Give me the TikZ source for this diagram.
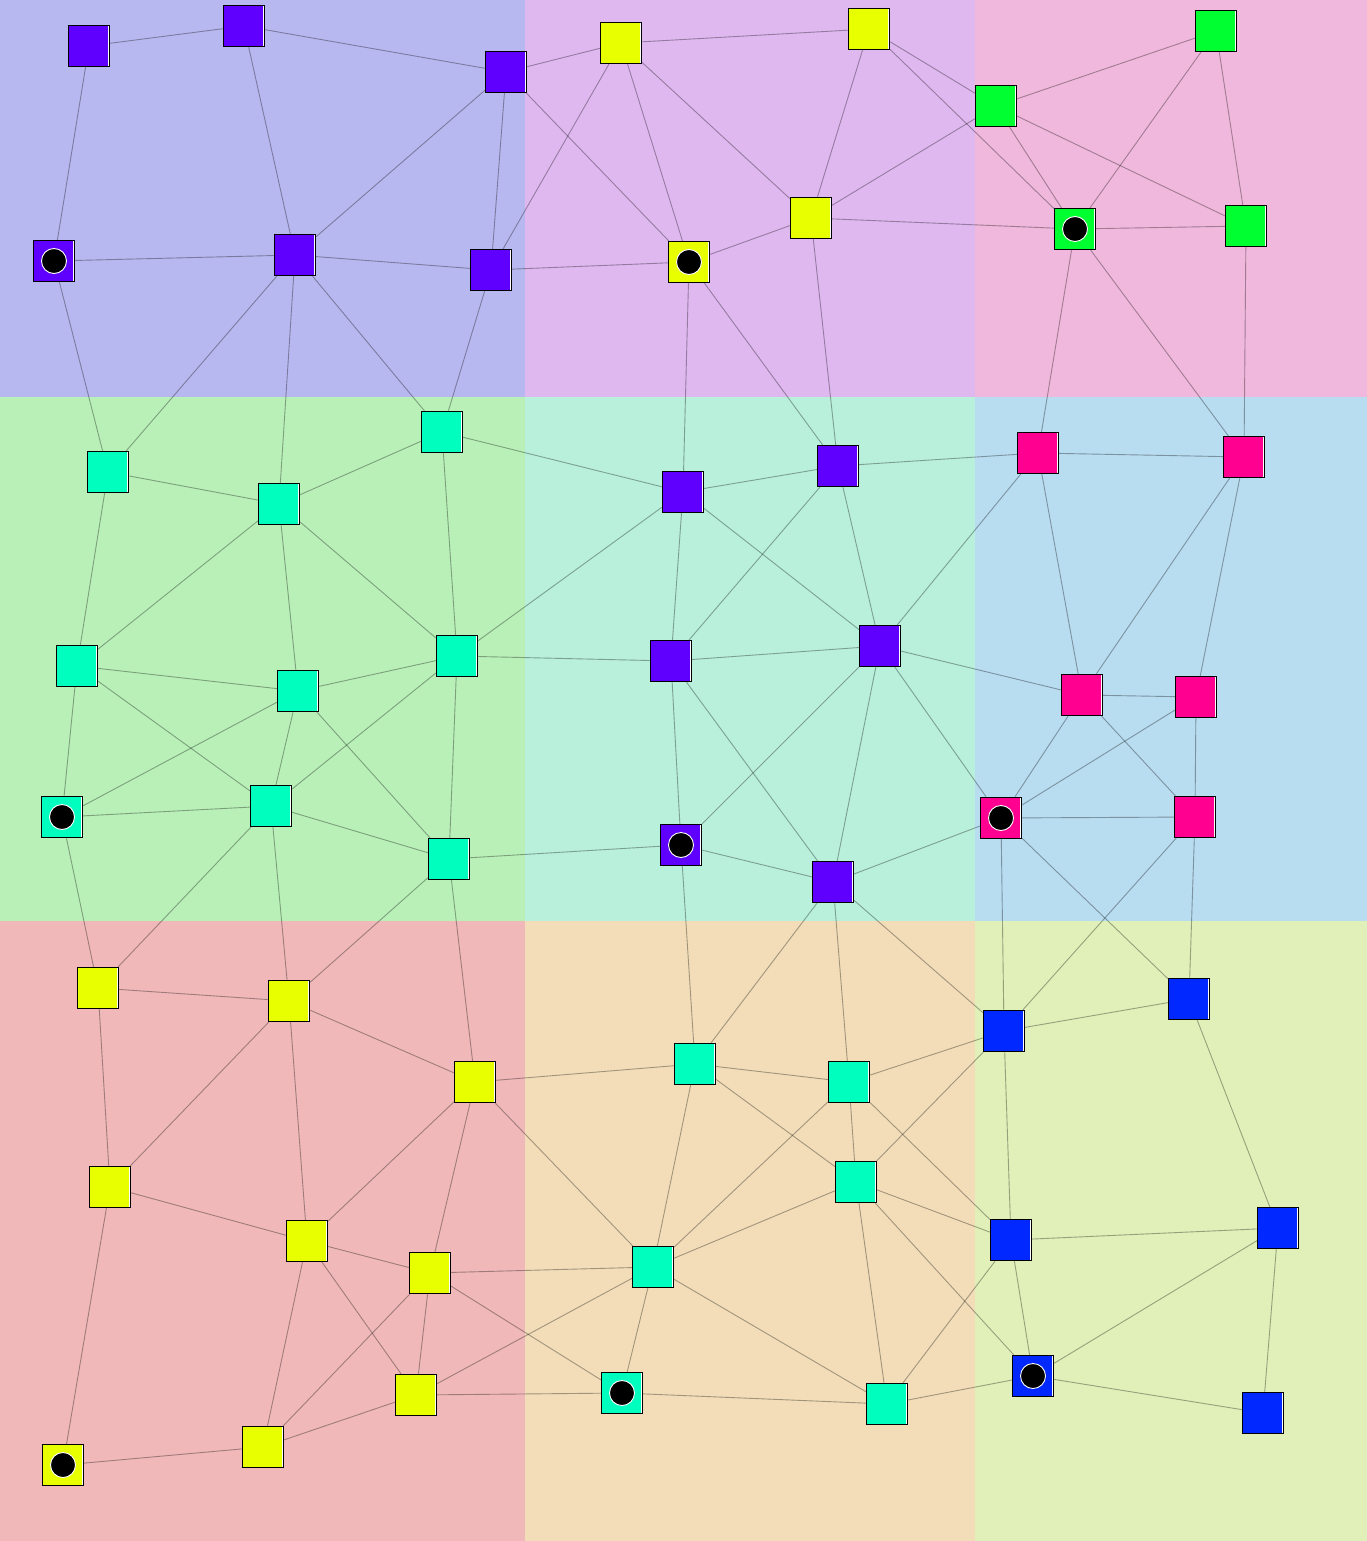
\documentclass[tikz,border=0pt]{standalone}
\usetikzlibrary{backgrounds}
\pgfdeclarelayer{bgl}
\pgfdeclarelayer{edgel}
\pgfsetlayers{bgl,edgel,main}
\definecolor{bgTL}{HTML}{B8B8F0}
\definecolor{bgTM}{HTML}{DFB8F0}
\definecolor{bgTR}{HTML}{F0B8DC}
\definecolor{bgML}{HTML}{B8F0B8}
\definecolor{bgMM}{HTML}{B8F0DC}
\definecolor{bgMR}{HTML}{B8DCF0}
\definecolor{bgBL}{HTML}{F0B8B8}
\definecolor{bgBM}{HTML}{F2DDB8}
\definecolor{bgBR}{HTML}{E0F0B8}
\definecolor{cP}{HTML}{5F00FF}
\definecolor{cY}{HTML}{E8FF00}
\definecolor{cG}{HTML}{00FF30}
\definecolor{cT}{HTML}{00FFBF}
\definecolor{cK}{HTML}{FF0090}
\definecolor{cB}{HTML}{0028FF}
\tikzset{
  sq/.style={draw=black, line width=1.2pt, minimum size=41pt, inner sep=0pt,
    path picture={\draw[white,line width=1pt]
      ([xshift=-1.4pt,yshift=-0.8pt]path picture bounding box.north east) --
      ([xshift=-1.4pt,yshift=0.8pt]path picture bounding box.south east);}},
  dotc/.style={circle, fill=black, draw=white, line width=0.9pt, minimum size=25pt, inner sep=0pt},
  edge/.style={draw=black, draw opacity=0.33, line width=0.9pt}
}
\begin{document}
\begin{tikzpicture}[x=1pt,y=-1pt]
\useasboundingbox (0,0) rectangle (1367,1541);
\begin{pgfonlayer}{bgl}
\fill[bgTL] (0,0) rectangle (525,397);
\fill[bgTM] (525,0) rectangle (975,397);
\fill[bgTR] (975,0) rectangle (1367,397);
\fill[bgML] (0,397) rectangle (525,921);
\fill[bgMM] (525,397) rectangle (975,921);
\fill[bgMR] (975,397) rectangle (1367,921);
\fill[bgBL] (0,921) rectangle (525,1541);
\fill[bgBM] (525,921) rectangle (975,1541);
\fill[bgBR] (975,921) rectangle (1367,1541);
\end{pgfonlayer}
% top-left
\node[sq,fill=cP] (P1) at (89,46) {};
\node[sq,fill=cP] (P2) at (244,26) {};
\node[sq,fill=cP] (P3) at (506,72) {};
\node[sq,fill=cP] (P4) at (54,261) {};
\node[sq,fill=cP] (P5) at (295,255) {};
\node[sq,fill=cP] (P6) at (491,270) {};
% top-middle
\node[sq,fill=cY] (Y1) at (621,43) {};
\node[sq,fill=cY] (Y2) at (869,29) {};
\node[sq,fill=cY] (Y3) at (811,218) {};
\node[sq,fill=cY] (Y4) at (689,262) {};
% top-right
\node[sq,fill=cG] (G1) at (1216,31) {};
\node[sq,fill=cG] (G2) at (996,106) {};
\node[sq,fill=cG] (G3) at (1075,229) {};
\node[sq,fill=cG] (G4) at (1246,226) {};
% middle-left
\node[sq,fill=cT] (T1) at (442,432) {};
\node[sq,fill=cT] (T2) at (108,472) {};
\node[sq,fill=cT] (T3) at (279,504) {};
\node[sq,fill=cT] (T4) at (77,666) {};
\node[sq,fill=cT] (T5) at (457,656) {};
\node[sq,fill=cT] (T6) at (298,691) {};
\node[sq,fill=cT] (T7) at (62,817) {};
\node[sq,fill=cT] (T8) at (271,806) {};
\node[sq,fill=cT] (T9) at (449,859) {};
% middle-middle
\node[sq,fill=cP] (M1) at (838,466) {};
\node[sq,fill=cP] (M2) at (683,492) {};
\node[sq,fill=cP] (M3) at (880,646) {};
\node[sq,fill=cP] (M4) at (671,661) {};
\node[sq,fill=cP] (M5) at (681,845) {};
\node[sq,fill=cP] (M6) at (833,882) {};
% middle-right
\node[sq,fill=cK] (K1) at (1038,453) {};
\node[sq,fill=cK] (K2) at (1244,457) {};
\node[sq,fill=cK] (K3) at (1082,695) {};
\node[sq,fill=cK] (K4) at (1196,697) {};
\node[sq,fill=cK] (K5) at (1001,818) {};
\node[sq,fill=cK] (K6) at (1195,817) {};
% bottom-left
\node[sq,fill=cY] (L1) at (98,988) {};
\node[sq,fill=cY] (L2) at (289,1001) {};
\node[sq,fill=cY] (L3) at (475,1082) {};
\node[sq,fill=cY] (L4) at (110,1187) {};
\node[sq,fill=cY] (L5) at (307,1241) {};
\node[sq,fill=cY] (L6) at (430,1273) {};
\node[sq,fill=cY] (L7) at (416,1395) {};
\node[sq,fill=cY] (L8) at (263,1447) {};
\node[sq,fill=cY] (L9) at (63,1465) {};
% bottom-middle
\node[sq,fill=cT] (B1) at (695,1064) {};
\node[sq,fill=cT] (B2) at (849,1082) {};
\node[sq,fill=cT] (B3) at (856,1182) {};
\node[sq,fill=cT] (B4) at (653,1267) {};
\node[sq,fill=cT] (B5) at (622,1393) {};
\node[sq,fill=cT] (B6) at (887,1404) {};
% bottom-right
\node[sq,fill=cB] (R1) at (1189,999) {};
\node[sq,fill=cB] (R2) at (1004,1031) {};
\node[sq,fill=cB] (R3) at (1011,1240) {};
\node[sq,fill=cB] (R4) at (1278,1228) {};
\node[sq,fill=cB] (R5) at (1033,1376) {};
\node[sq,fill=cB] (R6) at (1263,1413) {};
% dots
\foreach \n in {P4,Y4,G3,T7,M5,K5,L9,B5,R5}
  \node[dotc] (\n d) at (\n) {};
% edges
\begin{pgfonlayer}{edgel}
\foreach \a/\b in {P1/P2,P2/P3,P1/P4,P2/P5,P3/P5,P3/P6,P4/P5,P5/P6,P3/Y1,P3/Y4,P6/Y1,P6/Y4,P4/T2,P5/T2,P5/T3,P5/T1,P6/T1,
  Y1/Y2,Y1/Y4,Y1/Y3,Y2/Y3,Y2/G2,Y2/G3,Y3/G2,Y3/G3,Y3/Y4,Y3/M1,Y4/M2,Y4/M1,
  G1/G2,G1/G3,G1/G4,G2/G3,G2/G4,G3/G4,G3/K1,G3/K2,G4/K2,
  T2/T3,T2/T4,T3/T1,T3/T4,T3/T6,T3/T5,T1/T5,T1/M2,T4/T6,T4/T7,T4/T8,T5/T6,T5/M2,T5/M4,T5/T8,T5/T9,T6/T7,T6/T8,T6/T9,T7/T8,T8/T9,T9/M5,T7/L1,T8/L1,T8/L2,T9/L2,T9/L3,
  M1/M2,M1/M4,M1/M3,M1/K1,M2/M4,M2/M3,M3/M4,M3/M5,M3/M6,M3/K3,M3/K5,M4/M5,M4/M6,M5/M6,M5/B1,M6/K5,M6/B1,M6/B2,M6/R2,
  K1/K2,K1/K3,K1/M3,K2/K3,K2/K4,K3/K4,K3/K5,K3/K6,K4/K5,K4/K6,K5/K6,K5/R2,K5/R1,K6/R1,K6/R2,
  L1/L2,L1/L4,L2/L3,L2/L4,L2/L5,L3/B1,L3/L5,L3/L6,L3/B4,L4/L5,L4/L9,L5/L6,L5/L7,L5/L8,L6/L7,L6/L8,L6/B4,L6/B5,L7/L8,L7/B4,L7/B5,L8/L9,
  B1/B2,B1/B3,B1/B4,B2/B3,B2/B4,B2/R2,B2/R3,B3/B4,B3/B6,B3/R2,B3/R3,B3/R5,B4/B5,B4/B6,B5/B6,B6/R3,B6/R5,
  R1/R2,R1/R4,R2/R3,R3/R4,R3/R5,R4/R5,R4/R6,R5/R6}
  \draw[edge] (\a) -- (\b);
\end{pgfonlayer}
\end{tikzpicture}
\end{document}
